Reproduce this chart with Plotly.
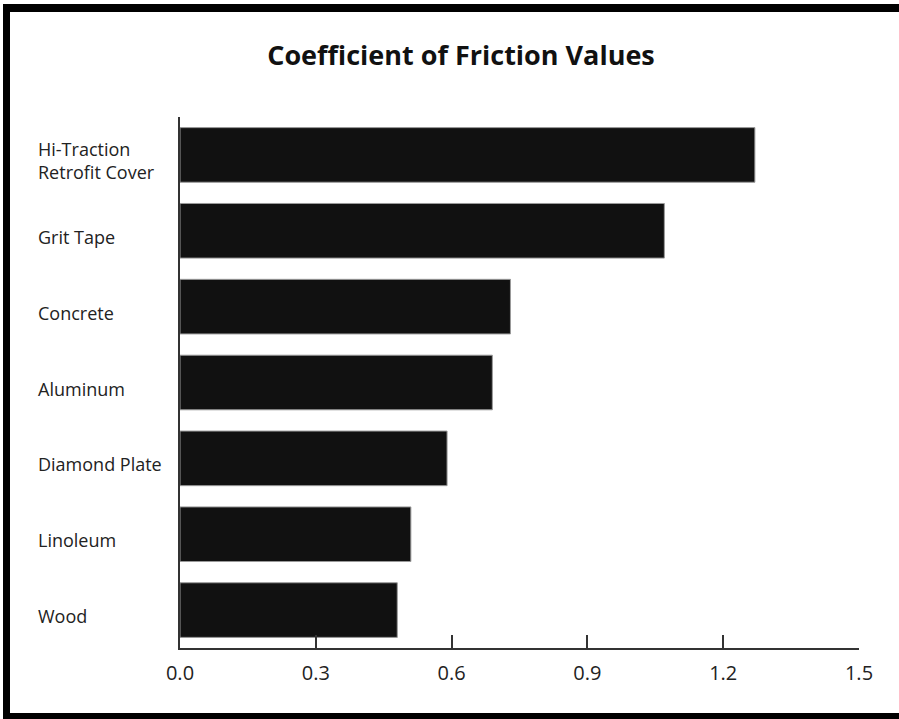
import plotly.graph_objects as go

categories = ["Hi-Traction<br>Retrofit Cover", "Grit Tape", "Concrete", "Aluminum",
              "Diamond Plate", "Linoleum", "Wood"]
values = [1.27, 1.07, 0.73, 0.69, 0.59, 0.51, 0.48]
tick_vals = [0.0, 0.3, 0.6, 0.9, 1.2, 1.5]
tick_text = ["0.0", "0.3", "0.6", "0.9", "1.2", "1.5"]
title_text = "Coefficient of Friction Values"

W, H = 899, 719
L, R, T, B = 180, 40, 117, 71
pw, ph = W - L - R, H - T - B

def px(x):
    return (x - L) / pw

def py(y):
    return (H - B - y) / ph

FONT = "Open Sans"

fig = go.Figure(go.Bar(
    x=values, y=categories, orientation="h",
    marker=dict(color="#111111", line=dict(color="#9a9a9a", width=1)),
    width=0.72,
))

annotations = [
    dict(x=px(36), xref="paper", y=c, yref="y", text=c, showarrow=False,
         xanchor="left", yanchor="middle", align="left", yshift=-6,
         font=dict(family=FONT, size=18, color="#222222"))
    for c in categories
]

shapes = [
    dict(type="rect", xref="paper", yref="paper", x0=px(3), x1=px(10), y0=py(719), y1=py(4),
         fillcolor="black", line=dict(width=0), layer="above"),
    dict(type="rect", xref="paper", yref="paper", x0=px(3), x1=px(899), y0=py(12), y1=py(4),
         fillcolor="black", line=dict(width=0), layer="above"),
    dict(type="rect", xref="paper", yref="paper", x0=px(3), x1=px(899), y0=py(719), y1=py(713),
         fillcolor="black", line=dict(width=0), layer="above"),
]

fig.update_layout(
    width=W, height=H,
    margin=dict(l=L, r=R, t=T, b=B, pad=0),
    paper_bgcolor="white", plot_bgcolor="white",
    showlegend=False,
    title=dict(text="<b>" + title_text + "</b>", x=461 / W, xanchor="center", xref="container",
               y=1 - 56 / H, yanchor="middle", yref="container",
               font=dict(family=FONT, size=27, color="#111111")),
    xaxis=dict(range=[0, 1.5], tickvals=tick_vals, ticktext=tick_text,
               showgrid=False, zeroline=False, showline=True, linecolor="#333333", linewidth=1.5,
               ticks="inside", ticklen=13, tickwidth=1.5, tickcolor="#333333",
               ticklabelstandoff=6,
               tickfont=dict(family=FONT, size=20, color="#222222"), fixedrange=True),
    yaxis=dict(range=[6.5, -0.5], showticklabels=False, showgrid=False, zeroline=False,
               showline=True, linecolor="#333333", linewidth=1.5, ticks="", fixedrange=True,
               type="category"),
    annotations=annotations,
    shapes=shapes,
)

fig.write_html("out.html", config={"displayModeBar": False},
               post_script="document.body.style.margin='0';document.body.style.overflow='hidden';")
